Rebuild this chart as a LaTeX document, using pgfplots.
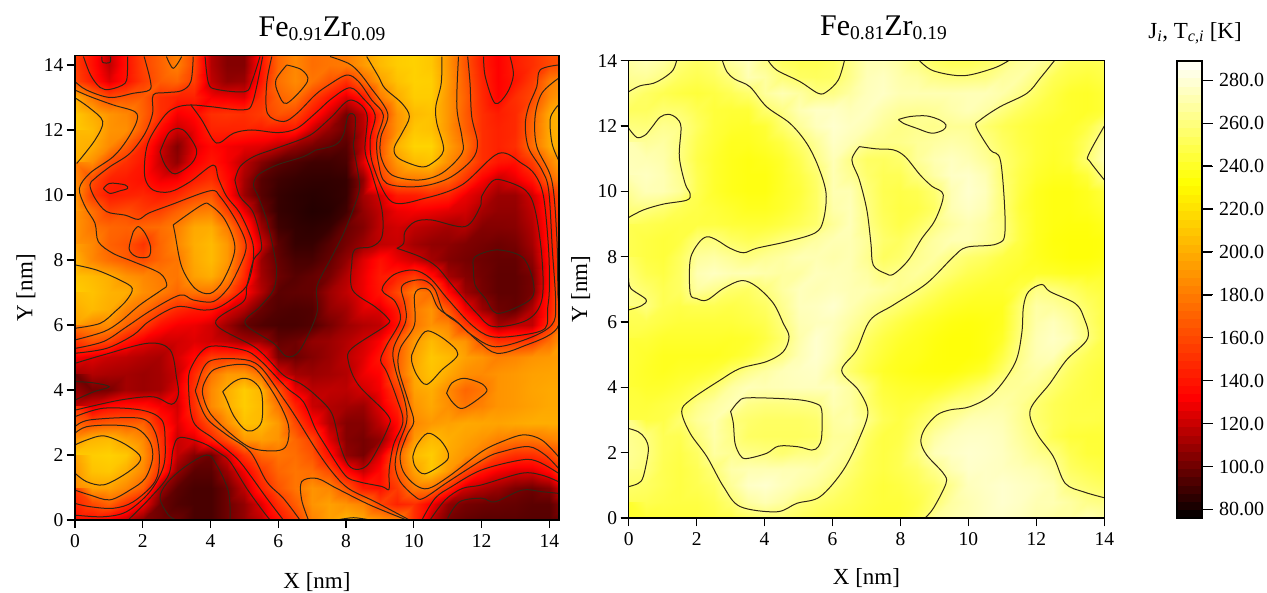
\documentclass[border=0pt]{standalone}
\usepackage{fontspec}
\setmainfont{Liberation Serif}
\usepackage{pgfplots}
\pgfplotsset{compat=1.18}
\newcommand\sub[1]{\raisebox{-.3ex}{\fontsize{19.5}{19.5}\selectfont #1}}
\definecolor{ctline}{RGB}{48,38,22}
\pgfplotsset{
  colormap={fezr}{rgb255(76pt)=(0,0,0); rgb255(132pt)=(255,0,0); rgb255(232pt)=(255,255,0); rgb255(289pt)=(255,255,255)},
  ct/.style={no marks,forget plot,draw=ctline,line width=1pt,smooth,tension=.55},
  panel/.style={scale only axis,axis on top,colormap name=fezr,point meta min=76,point meta max=289,
    tick pos=left,tick align=outside,xtick={0,2,...,14},ytick={0,2,...,14},major tick length=8pt,
    xtick style={draw=black,line width=1.3pt},ytick style={draw=black,line width=1.3pt},axis line style={black,line width=1.3pt},
    /pgf/number format/assume math mode=true,
    tick label style={font=\fontsize{19.5}{22}\selectfont},
    xticklabel style={yshift=-3pt},
    label style={font=\fontsize{23}{26}\selectfont},
    title style={font=\fontsize{30}{33}\selectfont}},
  overlay/.style={scale only axis,anchor=south west,tick align=outside,
    xticklabels=\empty,yticklabels=\empty,
    tick style={draw=black,line width=1.3pt},axis line style={black,line width=1.3pt}},
}
\begin{document}
\begin{tikzpicture}
\path[use as bounding box] (0,0) rectangle (1267pt,592pt);
\begin{axis}[panel,at={(75pt,72pt)},anchor=south west,width=484pt,height=464.3pt,
  xmin=0,xmax=14.286,ymin=0,ymax=14.286,
  xlabel={X [nm]},ylabel={Y [nm]},title={Fe\sub{0.91}Zr\sub{0.09}},
  title style={at={(0.5,1)},anchor=south,yshift=5pt,xshift=5pt},
  xlabel style={at={(0.5,0)},anchor=north,yshift=-49pt},
  ylabel style={at={(0,0.5)},anchor=south,yshift=36pt},
  colorbar sampled,
  colorbar style={samples=56,at={(parent axis.north east)},anchor=north west,xshift=610pt,yshift=-5.3pt,
    width=25pt,height=457pt,ytick={80,100,...,280},
    yticklabels={80.00,100.0,120.0,140.0,160.0,180.0,200.0,220.0,240.0,260.0,280.0},
    tick pos=right,yticklabel pos=right,tick align=outside,major tick length=10pt,
    tick label style={font=\fontsize{20}{22}\selectfont},
    yticklabel style={xshift=3pt},
    title={J\textsubscript{\textit{i}}, T\textsubscript{\textit{c,i}} [K]},
    title style={font=\fontsize{23}{25}\selectfont,at={(0.5,1)},anchor=south,yshift=7pt,xshift=5pt},
    axis line style={black,line width=1.3pt},ytick style={draw=black,line width=1.1pt}},
]
\addplot[surf,shader=interp,forget plot,mesh/rows=30,mesh/cols=30,point meta=explicit]
 table[header=false,x expr={mod(\coordindex,30)*0.5},y expr={14.5-floor(\coordindex/30)*0.5},meta index=0] {
155
138
118
138
158
170
182
160
115
105
105
138
172
185
175
178
180
192
205
212
214
210
190
165
143
132
143
150
160
165
155
138
118
138
158
170
182
160
115
105
105
138
172
185
175
178
180
192
205
212
214
210
190
165
143
132
143
150
160
165
160
142
125
138
155
168
172
156
118
108
110
140
176
186
178
165
150
172
195
208
214
213
192
168
146
132
140
155
180
190
200
178
160
165
168
150
145
145
130
128
125
150
170
178
157
140
125
140
180
200
212
212
190
170
148
133
150
160
185
198
210
200
190
185
170
150
130
135
150
152
150
155
165
160
140
122
102
118
152
190
205
208
190
168
150
143
148
170
198
206
212
205
190
188
165
135
120
128
145
145
145
142
140
140
120
108
100
116
162
190
210
208
190
170
150
145
148
172
198
205
205
200
186
168
145
122
105
125
135
130
127
125
118
108
102
98
95
118
165
202
215
215
195
178
150
145
150
175
198
205
200
188
162
150
140
120
108
130
140
130
117
105
96
93
90
90
92
125
165
192
205
208
188
170
150
140
138
155
182
205
182
162
145
142
138
128
130
142
150
135
112
95
90
88
87
87
88
108
155
178
180
182
172
152
132
120
127
140
170
190
190
155
142
145
147
142
148
160
165
138
110
95
88
86
85
86
88
112
123
142
143
148
145
128
120
110
110
122
143
175
195
176
158
162
155
158
170
180
183
158
128
100
88
86
84
85
90
108
118
128
130
128
125
122
112
108
108
118
142
170
190
178
172
170
172
175
182
198
200
181
148
110
90
87
86
88
99
105
118
122
118
115
112
115
105
105
106
115
140
168
190
185
170
165
152
172
185
200
205
192
158
122
96
88
88
95
102
110
118
120
112
108
107
104
102
100
102
112
140
165
195
185
175
168
162
172
178
198
205
192
155
110
98
92
92
98
108
125
138
128
122
112
105
102
100
98
98
107
138
165
208
205
200
190
185
180
178
195
200
185
148
112
100
95
98
102
115
128
142
145
155
137
112
105
101
97
97
102
138
178
212
208
202
200
188
182
172
178
178
165
135
115
96
97
98
110
118
128
140
160
182
175
135
110
102
97
97
102
140
182
205
205
200
183
175
160
148
142
140
125
115
99
94
93
94
108
112
125
125
142
180
190
165
130
110
100
98
115
142
185
195
185
187
170
155
138
130
128
122
110
98
94
92
92
94
102
110
115
118
138
178
190
185
155
135
112
118
118
150
190
178
165
158
140
128
122
122
125
122
118
112
110
98
100
108
110
115
122
132
165
192
205
195
190
165
150
152
155
175
198
130
125
120
118
115
113
123
135
155
155
155
138
103
100
105
110
117
125
140
168
196
210
205
195
190
182
185
190
192
195
112
115
113
112
110
112
120
148
178
192
192
176
125
112
110
112
115
128
133
170
198
208
198
188
186
190
192
195
196
196
100
101
103
112
110
112
125
152
186
200
212
203
165
128
117
118
117
122
130
155
195
200
186
172
178
190
192
196
198
198
118
125
135
138
138
130
122
150
186
200
212
205
178
145
120
115
112
110
125
145
190
198
188
178
183
190
192
195
198
198
150
163
168
168
170
142
125
140
165
188
208
205
192
160
135
115
105
105
118
135
185
192
195
198
197
196
198
200
200
200
190
203
205
195
185
152
120
125
145
165
192
195
190
172
158
125
105
102
108
135
192
205
200
195
190
183
179
178
183
190
210
212
214
210
190
155
118
105
100
122
152
172
178
175
165
138
108
102
125
168
205
212
198
190
178
158
150
150
158
182
195
208
210
200
185
150
108
96
96
110
130
155
172
178
175
162
135
120
135
165
195
210
192
160
140
130
125
125
135
165
185
195
195
185
168
112
96
92
92
100
118
145
165
178
190
185
165
142
138
155
180
178
148
122
115
110
103
100
105
130
155
160
170
150
130
100
94
92
92
100
108
125
150
168
190
195
190
183
158
145
150
130
108
102
100
99
98
96
96
110
135
135
130
118
105
100
100
92
92
100
108
118
137
155
183
195
203
198
192
185
150
118
102
98
96
96
96
95
95
100
};
% level 200
\addplot[ct] coordinates {(0,2.31)(.34,2.46)(.84,2.59)(1.43,2.36)(1.9,2)(1.87,1.74)(1.43,1.38)(.84,1.08)(.34,1.18)(0,1.44)};
\addplot[ct] coordinates {(0,7.85)(.64,7.69)(1.33,7.38)(1.69,7.13)(1.53,6.77)(1.18,6.41)(.74,6.05)(0,5.9)};
\addplot[ct] coordinates {(.03,12.97)(.44,12.67)(.82,12.26)(.59,11.69)(.05,10.97)};
\addplot[ct] coordinates {(4.36,3.95)(4.67,4.24)(4.97,4.36)(5.27,4.26)(5.51,3.9)(5.51,3.03)(5.22,2.74)(4.97,2.82)(4.67,3.23)(4.48,3.69)(4.36,3.95)};
\addplot[ct] coordinates {(9.94,5.08)(10.14,5.54)(10.41,5.82)(10.93,5.54)(11.3,5.1)(10.83,4.62)(10.38,4.17)(10.09,4.46)(9.94,4.87)(9.94,5.08)};
\addplot[ct] coordinates {(9.97,1.95)(10.09,2.31)(10.41,2.67)(10.78,2.46)(11.02,2.05)(10.93,1.79)(10.33,1.42)(10.04,1.64)(9.97,1.95)};
\addplot[ct] coordinates {(8.61,14.26)(8.96,13.64)(9.15,13.28)(9.65,12.82)(9.87,12.41)(9.65,11.9)(9.42,11.44)(9.55,11.13)(10.19,10.87)(10.53,10.97)(10.88,11.38)(10.68,12.21)(10.65,12.72)(10.81,13.44)(10.83,14.26)};
\addplot[ct] coordinates {(14.27,12.77)(14.03,12.36)(14.08,11.59)(14.27,11.08)};
% level 180
\addplot[ct] coordinates {(0,2.67)(.34,2.87)(1.13,2.92)(1.82,2.82)(2.21,2.41)(2.29,1.9)(2.07,1.28)(1.62,.92)(1.03,.62)(.44,.77)(0,.92)};
\addplot[ct] coordinates {(0,13.23)(.44,13.03)(1.13,12.77)(1.77,12.56)(1.82,12.26)(1.53,11.69)(1.13,11.18)(.44,10.67)(.13,10.2)(.3,9.64)(.59,9.13)(.69,8.56)(1.13,8.2)(1.72,7.95)(2.51,7.59)(2.71,7.23)(2.56,7.08)(1.92,6.62)(1.33,6.1)(.84,5.79)(0,5.54)};
\addplot[ct] coordinates {(2.9,9.08)(3.74,9.69)(3.99,9.69)(4.43,9.23)(4.72,8.36)(4.38,7.38)(3.99,6.97)(3.54,7.13)(3.15,7.79)(2.95,8.82)(2.9,9.08)};
\addplot[ct] coordinates {(3.79,4.15)(4.09,4.62)(4.87,4.79)(5.36,4.62)(5.95,3.74)(6.3,2.92)(6.25,2.31)(5.95,2.13)(5.22,2.21)(4.58,2.67)(3.99,3.28)(3.77,3.85)(3.79,4.15)};
\addplot[ct] coordinates {(6.25,14)(6.69,13.85)(6.86,13.49)(6.25,12.82)(6,13.13)(5.93,13.54)(6.25,14)};
\addplot[ct] coordinates {(2.7,14.26)(2.9,13.9)(3.15,14.26)};
\addplot[ct] coordinates {(7.53,14.26)(8.07,14.05)(8.37,13.79)(8.71,13.33)(9.23,12.51)(9.03,11.79)(9.03,11.18)(9.35,10.62)(10.14,10.46)(10.83,10.67)(11.42,11.28)(11.42,11.79)(11.27,12.72)(11.32,14.26)};
\addplot[ct] coordinates {(14.27,13.59)(13.78,13.13)(13.58,12.41)(13.63,11.49)(14.07,10.46)(14.22,8.72)(14.25,7.08)(14.23,5.9)(13.19,5.33)(12.45,5.13)(11.91,5.49)(11.22,6.15)(10.73,6.51)(10.49,7.03)(10.24,7.13)(10.02,6.92)(10.02,6)(9.6,5.28)(9.55,4.67)(9.84,3.64)(10,3.03)(9.8,2.62)(9.6,2)(9.69,1.49)(10.04,1.08)(10.43,.97)(11.02,1.33)(12,2.1)(12.6,2.41)(13.24,2.62)(13.78,2.46)(14.27,1.95)};
\addplot[ct] coordinates {(6.89,0)(6.69,.62)(6.69,1.18)(7.14,1.28)(7.73,.97)(8.71,.46)(9.79,0)};
\addplot[ct] coordinates {(7.73,0)(8.22,.07)(8.71,0)};
% level 160
\addplot[ct] coordinates {(0,2.87)(.44,3.08)(1.92,3.13)(2.36,2.72)(2.49,1.9)(2.36,1.18)(1.72,.56)(1.13,.36)(.44,.41)(0,.51)};
\addplot[ct] coordinates {(0,13.49)(.34,13.23)(1.03,13)(1.72,13.13)(2.2,13.23)(2.22,13.54)(2.04,14.26)};
\addplot[ct] coordinates {(3.49,14.26)(3.42,13.49)(3.15,13.21)(2.71,13.15)(2.31,13.08)(2.29,12.51)(2.07,11.9)(1.62,11.28)(1.03,10.87)(.59,10.51)(.44,10.31)(.59,9.9)(.93,9.49)(1.48,9.38)(1.87,9.25)(2.17,9.44)(2.81,9.69)(3.99,10.13)(4.28,9.95)(4.72,9.28)(5.02,8.62)(5.02,8.21)(4.72,7.49)(4.48,7.08)(4.08,6.72)(3.49,6.77)(3.1,6.92)(2.26,6.46)(1.53,5.95)(.84,5.49)(0,5.28)};
\addplot[ct] coordinates {(1.72,8.87)(1.87,9.03)(2.07,8.82)(2.23,8.41)(2.17,8.1)(1.82,8.1)(1.6,8.34)(1.72,8.87)};
\addplot[ct] coordinates {(10.97,3.9)(11.12,4.21)(11.47,4.36)(11.91,4.24)(12.11,4.1)(12.11,3.9)(11.47,3.44)(11.17,3.59)(10.97,3.9)};
\addplot[ct] coordinates {(5.81,14.26)(5.66,13.44)(5.68,12.51)(6.15,12.26)(6.55,12.51)(7.09,13.08)(7.48,13.38)(8.02,13.69)(8.37,13.49)(8.76,12.92)(9.1,12.46)(8.91,11.69)(8.96,10.97)(9.2,10.36)(10.14,10.26)(11.02,10.51)(11.71,11.08)(11.88,11.59)(11.71,12.41)(11.66,13.44)(11.59,14.26)};
\addplot[ct] coordinates {(6.64,0)(6.15,.67)(5.66,1.18)(5.17,2.1)(4.48,2.62)(3.89,3.13)(3.59,3.85)(3.59,4.1)(3.94,4.87)(4.87,4.95)(5.46,4.72)(6.15,3.74)(6.54,3.13)(7.09,2.21)(7.58,1.49)(8.07,.97)(8.86,.56)(9.87,0)};
\addplot[ct] coordinates {(14.27,14)(13.73,13.85)(13.63,13.33)(13.39,12.72)(13.29,12.15)(13.39,11.44)(13.78,10.77)(13.98,10.15)(14.09,8.31)(14.19,6.62)(14.07,6)(13.39,5.59)(12.4,5.33)(11.71,5.69)(11.32,6.05)(10.88,6.41)(10.62,7.1)(10.29,7.38)(9.84,7.33)(9.63,7.13)(9.74,6.62)(9.76,6.1)(9.4,5.28)(9.45,4.67)(9.74,3.64)(9.79,3.03)(9.55,2.31)(9.45,1.69)(9.6,1.18)(10.04,.72)(10.29,.67)(11.02,1.18)(12.11,1.9)(12.6,2.1)(13.38,2.26)(13.88,2)(14.27,1.59)};
% level 140
\addplot[ct] coordinates {(0,3.18)(.84,3.44)(1.97,3.38)(2.56,3.08)(2.66,2.41)(2.61,1.64)(2.21,.87)(1.53,.26)(.84,.1)(0,.15)};
\addplot[ct] coordinates {(.25,14.26)(.46,13.69)(.74,13.31)(1.03,13.25)(1.48,13.44)(1.55,13.85)(1.55,14.26)};
\addplot[ct] coordinates {(5.54,14.26)(5.25,12.87)(4.97,12.62)(3.99,12.72)(3.42,12.77)(3,12.7)(2.66,12.46)(2.21,11.74)(2.07,11.18)(2.07,10.51)(2.31,10.15)(2.81,10.1)(3.4,10.41)(4.08,10.92)(4.23,10.51)(4.48,9.95)(4.87,9.44)(5.22,8.62)(5.27,8.1)(5.17,7.49)(4.97,7.08)(4.28,6.56)(3.79,6.46)(3,6.56)(2.17,6.1)(1.72,5.69)(.93,5.28)(0,5.13)};
\addplot[ct] coordinates {(3.42,12.77)(3.74,12.31)(4.08,11.69)(4.28,11.61)(4.68,11.9)(5.22,12)(6,11.92)(6.55,12.05)(7.09,12.51)(7.58,12.97)(8.12,13.3)(8.51,12.97)(8.86,12.46)(8.71,11.69)(8.81,10.87)(9.35,9.79)(10.33,9.9)(11.42,10.31)(12.5,11.28)(13.19,10.97)(13.58,10.62)(13.83,9.95)(13.98,8.31)(14,7.08)(13.95,6.51)(13.88,5.9)(13.19,5.69)(12.3,5.64)(11.71,6)(11,6.8)(10.48,7.44)(9.99,7.69)(9.4,7.54)(9.06,7.08)(9.45,6.72)(9.6,6.15)(9.2,5.38)(9.02,4.92)(9.2,4.56)(9.5,3.74)(9.68,3.03)(9.4,2.31)(9.27,1.51)(9.27,.95)(9.06,1.03)(8.37,1.18)(7.97,1.38)(7.38,2.31)(7.09,2.82)(6.74,3.64)(6.25,4.07)(5.46,4.92)(4.97,5.23)(3.94,5.33)(3.44,4.72)(3.35,4.15)(3.49,3.03)(4.08,2.51)(4.77,1.9)(5.17,1.38)(5.66,.67)(6.15,0)};
\addplot[ct] coordinates {(12.06,14.26)(12.11,13.64)(12.4,12.82)(12.75,13.13)(12.94,13.69)(12.84,14.26)};
\addplot[ct] coordinates {(.84,10.2)(1.03,10.36)(1.48,10.31)(1.55,10.2)(1.33,10.13)(1.03,10.05)(.84,10.2)};
\addplot[ct] coordinates {(10.24,0)(10.63,.67)(11.12,1.03)(12,1.54)(13.19,1.85)(13.68,1.79)(14.27,1.44)};
% level 120
\addplot[ct] coordinates {(.79,14.26)(.82,14.08)(1.03,14.08)(1.05,14.26)};
\addplot[ct] coordinates {(3.84,14.26)(3.94,13.44)(4.18,13.25)(5.02,13.18)(5.22,13.49)(5.46,14.26)};
\addplot[ct] coordinates {(2.51,11.33)(2.76,11.9)(3.05,12.05)(3.3,11.9)(3.59,11.38)(3.44,10.97)(2.95,10.65)(2.66,10.92)(2.51,11.33)};
\addplot[ct] coordinates {(4.72,10.46)(4.87,10.87)(5.27,11.18)(5.95,11.44)(6.74,11.74)(7.09,11.95)(7.58,12.41)(8.12,12.92)(8.61,12.51)(8.56,11.38)(8.76,10.67)(9.06,9.54)(9.06,8.72)(8.76,8.41)(8.27,8.33)(8.17,7.9)(8.19,7.08)(8.86,6.56)(9.23,6.21)(9.2,6)(8.17,5.28)(8.07,4.87)(8.37,4.15)(9.23,3.23)(9.23,2.82)(8.71,1.79)(8.37,1.56)(8.07,1.69)(7.82,2.31)(7.58,3.28)(7.09,3.85)(6.64,4.21)(6.15,4.46)(5.36,5.28)(4.15,6.05)(4.97,6.72)(5.07,7.18)(5.27,8)(5.51,8.41)(5.27,9.44)(4.87,9.95)(4.72,10.46)};
\addplot[ct] coordinates {(9.5,8.36)(9.7,8.51)(9.74,8.87)(10.04,9.18)(10.53,9.23)(11.52,9.03)(11.96,9.64)(12,9.95)(12.3,10.41)(12.6,10.46)(13.29,10.15)(13.58,9.54)(13.78,8.1)(13.78,6.77)(13.34,6.15)(12.35,5.95)(11.86,6.36)(11.17,7.18)(10.68,7.79)(10.19,8.1)(9.5,8.36)};
\addplot[ct] coordinates {(0,4.82)(.84,5.08)(2.17,5.44)(2.81,5.23)(3,4.36)(3.05,3.85)(2.85,3.56)(2.31,3.79)(1.33,3.69)(0,3.38)};
\addplot[ct] coordinates {(1.57,0)(2.21,.67)(2.76,1.38)(2.9,2.2)(3.1,2.54)(3.79,2.36)(4.28,2.05)(4.58,1.79)(5.07,.97)(5.56,.26)(5.76,0)};
\addplot[ct] coordinates {(10.48,0)(10.93,.62)(11.43,.97)(12,1.08)(13.19,1.44)(13.78,1.38)(14.27,1.18)};
% level 100
\addplot[ct] coordinates {(7.09,11.38)(7.68,11.54)(7.92,11.85)(8.07,12.46)(8.27,12.41)(8.25,11.79)(8.22,11.49)(8.37,10.56)(8.37,10.05)(7.97,8.92)(7.58,8.1)(7.14,7.18)(7.14,6.36)(6.64,5.23)(6.25,5.03)(5.86,5.44)(5.02,6.05)(5.46,6.56)(5.86,7.08)(5.95,7.69)(5.86,8.31)(5.66,9.23)(5.41,9.95)(5.27,10.31)(5.41,10.62)(5.95,10.92)(6.74,11.18)(7.09,11.38)};
\addplot[ct] coordinates {(11.76,7.79)(11.81,8.1)(12.45,8.31)(13.19,8.1)(13.49,7.49)(13.53,6.92)(13.19,6.62)(12.45,6.36)(12.11,6.82)(11.81,7.23)(11.76,7.79)};
\addplot[ct] coordinates {(0,4.26)(.54,4.22)(1.01,4.1)(.54,3.94)(0,3.69)};
\addplot[ct] coordinates {(3,0)(2.76,.15)(2.51,.67)(2.71,1.13)(3.25,1.64)(3.89,2)(4.18,1.69)(4.53,.87)(4.58,0)};
\addplot[ct] coordinates {(11,.05)(11.35,.56)(12,.67)(12.4,.56)(13.19,.92)(13.78,.87)(14.27,.82)};
\end{axis}

\begin{axis}[panel,at={(628.7pt,74pt)},anchor=south west,width=475.6pt,height=457.3pt,
  xmin=0,xmax=14,ymin=0,ymax=14,
  xlabel={X [nm]},ylabel={Y [nm]},title={Fe\sub{0.81}Zr\sub{0.19}},
  title style={at={(0.5,1)},anchor=south,yshift=11pt,xshift=17pt},
  xlabel style={at={(0.5,0)},anchor=north,yshift=-47pt},
  ylabel style={at={(0,0.5)},anchor=south,yshift=35pt},
]
\addplot[surf,shader=interp,forget plot,mesh/rows=30,mesh/cols=29,point meta=explicit]
 table[header=false,x expr={mod(\coordindex,29)*0.5},y expr={14-floor(\coordindex/29)*0.5},meta index=0] {
268
272
268
259
254
257
268
274
262
253
250
250
253
262
272
272
268
261
254
251
251
254
259
266
268
261
251
250
251
265
266
261
253
250
253
260
272
268
259
254
253
254
263
273
275
270
268
262
260
260
261
267
269
261
251
247
245
248
260
254
250
247
245
247
251
256
267
272
268
261
262
268
274
276
272
272
272
272
273
273
270
263
254
247
242
241
244
253
253
257
256
250
245
244
244
256
262
272
276
276
273
275
270
266
265
266
270
273
269
260
253
248
245
242
241
244
260
259
264
262
253
245
242
241
244
256
266
274
278
275
272
266
262
264
263
265
265
257
251
247
244
242
242
247
260
266
266
268
261
250
244
239
239
242
247
256
266
276
272
265
263
263
266
268
270
268
262
254
248
244
242
244
253
268
272
272
270
260
248
242
238
236
238
242
250
262
273
262
254
253
256
266
272
275
272
266
257
250
244
241
244
257
272
274
275
272
264
250
242
238
236
236
241
247
256
272
265
256
251
251
260
269
276
277
272
257
248
242
239
239
245
263
272
273
272
266
250
242
238
236
236
241
245
254
272
272
259
250
248
250
257
272
278
274
259
247
239
236
236
239
245
260
261
257
251
248
245
242
239
239
242
247
254
270
273
261
251
247
248
254
272
276
272
259
245
239
236
236
238
242
253
250
248
247
247
247
245
244
244
247
251
256
266
273
262
253
248
253
261
268
272
268
261
247
239
236
235
235
238
250
247
245
247
259
260
254
251
254
259
263
268
272
272
266
256
253
260
268
272
272
267
261
247
239
235
234
234
235
250
247
245
253
267
269
265
261
265
268
272
272
270
272
264
253
256
264
268
261
256
253
247
244
239
236
234
234
236
254
250
247
254
272
275
272
272
270
268
268
274
273
272
268
260
264
267
262
256
250
247
244
242
242
241
239
239
241
262
256
250
254
268
264
256
254
260
268
274
272
274
272
271
268
264
260
253
247
244
242
242
247
262
259
254
248
245
262
260
250
248
250
250
248
250
254
264
274
275
278
272
266
261
256
250
245
241
239
239
239
256
269
267
262
254
247
253
250
247
245
245
245
245
247
250
260
272
274
274
268
261
253
247
242
239
236
235
236
239
257
270
274
268
257
247
247
245
242
242
242
242
241
242
247
256
270
278
273
263
254
247
242
239
236
234
234
236
241
259
272
276
272
260
248
245
242
239
239
239
239
241
245
253
261
272
278
272
259
250
244
239
238
235
234
234
236
247
262
272
273
259
251
247
244
241
239
241
242
245
254
263
268
273
275
276
268
256
247
241
238
236
235
235
238
242
254
265
269
263
253
248
245
244
242
242
245
250
257
268
273
272
273
274
274
274
268
257
245
242
241
241
245
251
257
265
266
264
256
250
247
245
245
245
247
250
262
268
272
262
260
260
261
262
272
268
257
248
245
247
253
260
262
267
269
265
257
251
248
247
247
247
247
248
257
266
271
260
256
254
254
254
256
268
270
262
251
247
253
260
266
272
273
272
265
257
251
248
248
247
263
260
251
250
260
270
262
254
253
253
253
254
266
266
254
247
248
257
268
274
276
276
274
267
260
250
245
244
244
265
261
251
248
254
268
265
262
260
257
261
262
268
263
251
247
250
260
273
276
278
277
275
270
264
260
250
245
244
263
259
250
247
251
259
270
272
272
272
272
270
265
257
250
247
250
254
263
272
277
276
275
273
271
266
254
250
247
260
254
250
247
250
254
266
276
278
274
270
266
259
253
248
245
247
251
256
264
274
276
278
276
274
271
260
256
253
251
250
248
247
247
250
257
268
272
268
260
256
253
250
247
245
245
248
257
268
272
275
278
276
272
272
268
263
261
242
244
245
245
245
247
248
253
257
257
253
250
248
247
245
244
245
251
266
270
272
275
276
274
270
268
268
272
268
242
244
245
245
245
247
248
253
257
257
253
250
248
247
245
244
245
251
266
270
272
275
276
274
270
268
268
272
268
};
\addplot[ct] coordinates {(0,13.05)(.33,13.23)(.73,13.31)(1.07,13.5)(1.31,13.72)(1.41,14)};
\addplot[ct] coordinates {(0,11.93)(.24,11.65)(.48,11.72)(.68,11.96)(.92,12.27)(1.17,12.36)(1.41,12.24)(1.54,11.96)(1.49,11.06)(1.66,10.24)(1.81,9.92)(1.71,9.73)(1.02,9.61)(.43,9.43)(0,9.2)};
\addplot[ct] coordinates {(2.76,14)(2.89,13.66)(3.13,13.43)(3.57,13.2)(4.06,12.59)(4.75,12.08)(5.24,11.47)(5.58,10.76)(5.81,9.94)(5.73,9.12)(5.49,8.73)(4.65,8.46)(3.77,8.26)(3.38,8.12)(2.98,8.26)(2.59,8.51)(2.3,8.61)(2.05,8.41)(1.81,7.9)(1.81,6.88)(2,6.72)(2.3,6.67)(2.79,7.03)(3.33,7.27)(3.77,7.08)(4.26,6.57)(4.55,5.96)(4.72,5.55)(4.55,5.09)(4.06,4.79)(3.28,4.58)(2.69,4.22)(1.81,3.61)(1.56,3.26)(1.81,2.59)(2.3,1.88)(2.79,.96)(3.28,.35)(4.36,.19)(4.95,.45)(5.63,.65)(6.32,1.47)(6.81,2.49)(7.04,3.26)(6.76,3.92)(6.27,4.51)(6.71,5.14)(7.11,6.06)(7.79,6.52)(8.77,7.18)(9.56,8)(9.95,8.29)(10.83,8.39)(11.08,8.82)(10.95,10.91)(10.64,11.27)(10.23,11.98)(10.34,12.18)(10.93,12.59)(11.72,13)(12.11,13.46)(12.53,14)};
\addplot[ct] coordinates {(4.11,14)(4.36,13.71)(5.04,13.36)(5.58,13)(5.83,13.05)(6.17,13.41)(6.35,14)};
\addplot[ct] coordinates {(8.56,14)(8.97,13.69)(9.85,13.54)(10.74,13.77)(11.18,14)};
\addplot[ct] coordinates {(7.94,12.2)(8.28,12.29)(8.77,12.31)(9.17,12.18)(9.34,12.03)(9.26,11.88)(8.92,11.78)(8.48,11.93)(8.09,12.08)(7.94,12.2)};
\addplot[ct] coordinates {(6.79,11.37)(7.3,11.3)(7.79,11.27)(8.14,11.06)(8.58,10.5)(8.92,10.16)(9.26,9.89)(9.02,9.12)(8.63,8.56)(8.23,7.89)(7.79,7.46)(7.55,7.49)(7.2,7.74)(7.13,8.41)(7.01,9.43)(6.79,10.35)(6.57,10.96)(6.79,11.37)};
\addplot[ct] coordinates {(14,12)(13.53,11.11)(13.58,10.91)(14,10.35)};
\addplot[ct] coordinates {(0,7.34)(.06,7.03)(.51,6.69)(.38,6.5)(0,6.37)};
\addplot[ct] coordinates {(3,3.26)(3.23,3.56)(3.52,3.68)(4.9,3.63)(5.49,3.51)(5.68,3.31)(5.68,2.49)(5.58,2.18)(5.39,2.08)(4.99,2.18)(4.41,2.2)(4.06,1.98)(3.47,1.82)(3.28,1.92)(3.13,2.29)(3.08,2.9)(3,3.26)};
\addplot[ct] coordinates {(0,2.74)(.28,2.64)(.48,2.44)(.58,2.08)(.43,1.27)(.28,1.06)(0,.96)};
\addplot[ct] coordinates {(8.72,0)(8.97,.3)(9.34,1.06)(9.26,1.37)(8.77,1.93)(8.6,2.34)(8.72,2.74)(9.07,3.15)(9.46,3.31)(10.05,3.41)(10.74,3.82)(11.37,4.74)(11.57,5.65)(11.62,6.47)(11.77,6.93)(12.16,7.15)(12.4,6.93)(13.14,6.57)(13.39,6.16)(13.51,5.5)(12.89,4.84)(12.4,4.12)(11.82,3.31)(12.01,2.6)(12.5,1.88)(12.85,1.06)(13.39,.8)(14,.62)};
\end{axis}

% tick marks and frames drawn again above the filled panels
\begin{axis}[overlay,at={(75pt,72pt)},width=484pt,height=464.3pt,xmin=0,xmax=14.286,ymin=0,ymax=14.286,
  tick pos=left,major tick length=8pt,xtick={0,2,...,14},ytick={0,2,...,14}]
\addplot[draw=none,forget plot] coordinates {(0,0)};
\end{axis}
\begin{axis}[overlay,at={(628.7pt,74pt)},width=475.6pt,height=457.3pt,xmin=0,xmax=14,ymin=0,ymax=14,
  tick pos=left,major tick length=8pt,xtick={0,2,...,14},ytick={0,2,...,14}]
\addplot[draw=none,forget plot] coordinates {(0,0)};
\end{axis}
\begin{axis}[overlay,at={(1177pt,74pt)},width=25pt,height=457pt,xmin=0,xmax=1,ymin=76,ymax=289,
  ytick pos=right,major tick length=10pt,xtick=\empty,ytick={80,100,...,280}]
\addplot[draw=none,forget plot] coordinates {(0,80)};
\end{axis}
\end{tikzpicture}
\end{document}
